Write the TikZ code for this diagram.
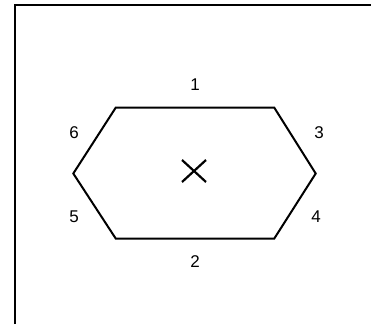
\documentclass[tikz,border=0pt]{standalone}
\usepackage{fontspec}
\setmainfont{Liberation Sans}
\begin{document}
\begin{tikzpicture}[x=1pt,y=-1pt,
  edge/.style={line width=2pt,line join=miter},
  lab/.style={font=\fontsize{17}{19}\selectfont,inner sep=0pt}]
\useasboundingbox (0,0) rectangle (371,324);
\fill[white] (0,0) rectangle (371,324);
% frame
\coordinate (fb) at (14.5,324);
\coordinate (fc) at (14.5,5);
\coordinate (fr) at (371,5);
\draw[line width=2pt] (fb) -- (fc) -- (fr);
% hexagon vertices
\coordinate (tl) at (115.7,107.7);
\coordinate (tr) at (274.3,107.7);
\coordinate (r) at (315.7,173.5);
\coordinate (br) at (274.3,238.5);
\coordinate (bl) at (115.7,238.5);
\coordinate (l) at (73.3,173.5);
\draw[edge] (tl) -- (tr) -- (r) -- (br) -- (bl) -- (l) -- cycle;
% centre cross
\coordinate (x1) at (182,160);
\coordinate (x2) at (206,182);
\coordinate (x3) at (206,160);
\coordinate (x4) at (182,182);
\draw[line width=2.2pt] (x1) -- (x2);
\draw[line width=2.2pt] (x3) -- (x4);
% labels
\node[lab] (n1) at (195,85) {1};
\node[lab] (n2) at (195,262) {2};
\node[lab] (n3) at (319,132.5) {3};
\node[lab] (n4) at (316,216.5) {4};
\node[lab] (n5) at (74,216.5) {5};
\node[lab] (n6) at (74,132.5) {6};
\end{tikzpicture}
\end{document}
